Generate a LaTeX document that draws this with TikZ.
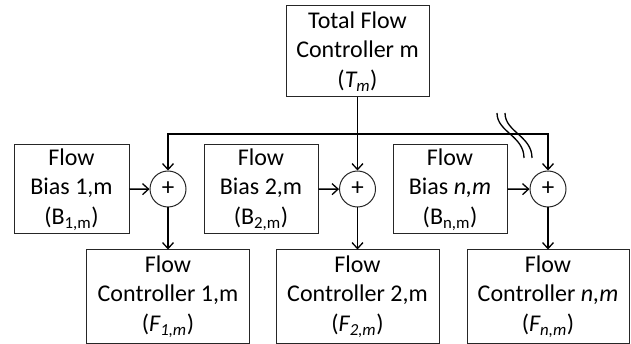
\documentclass[tikz,border=0pt]{standalone}
\usepackage{fontspec}
\setmainfont{Carlito}
\usetikzlibrary{arrows.meta}
\begin{document}
\begin{tikzpicture}[x=1pt, y=-1pt,
    font=\fontsize{24}{29.5}\selectfont,
    box/.style={draw=black!85, line width=1pt, rectangle, align=center, inner sep=0pt},
    sumnode/.style={draw=black!85, line width=1pt, circle, minimum size=36pt, inner sep=0pt, font=\fontsize{25}{25}\selectfont},
    arr/.style={line width=1.5pt, -{Straight Barb[length=6pt, width=11pt, line width=1.3pt]}}]
    \useasboundingbox (0,0) rectangle (631,344);
    % top controller
    \node[box, minimum width=143pt, minimum height=91pt] (total) at (357.5,51.5) {Total Flow\\Controller m\\(\textit{T\textsubscript{m}})};
    % bias boxes
    \node[box, minimum width=115pt, minimum height=89pt] (bias1) at (71.5,189.5) {Flow\\Bias 1,m\\(B\textsubscript{1,m})};
    \node[box, minimum width=114pt, minimum height=89pt] (bias2) at (261,189.5) {Flow\\Bias 2,m\\(B\textsubscript{2,m})};
    \node[box, minimum width=114pt, minimum height=89pt] (biasn) at (450,189.5) {Flow\\Bias \textit{n,m}\\(B\textsubscript{n,m})};
    % summing junctions
    \node[sumnode] (sum1) at (168,189) {+};
    \node[sumnode] (sum2) at (357.5,189) {+};
    \node[sumnode] (sumn) at (548,189) {+};
    % flow controllers
    \node[box, minimum width=163pt, minimum height=93pt] (ctrl1) at (168,296.5) {Flow\\Controller 1,m\\(\textit{F\textsubscript{1,m}})};
    \node[box, minimum width=163pt, minimum height=93pt] (ctrl2) at (357.5,296.5) {Flow\\Controller 2,m\\(\textit{F\textsubscript{2,m}})};
    \node[box, minimum width=162pt, minimum height=93pt] (ctrln) at (548,296.5) {Flow\\Controller \textit{n,m}\\(\textit{F\textsubscript{n,m}})};
    % bus
    \coordinate (bus) at (357.5,134);
    \draw[arr] (total) -- (sum2);
    \draw[arr] (bus) -| (sum1);
    \draw[arr] (bus) -| (sumn);
    \draw[arr] (bias1) -- (sum1);
    \draw[arr] (bias2) -- (sum2);
    \draw[arr] (biasn) -- (sumn);
    \draw[arr] (sum1) -- (ctrl1);
    \draw[arr] (sum2) -- (ctrl2);
    \draw[arr] (sumn) -- (ctrln);
    % break mark
    \draw[line width=1.3pt] (497,113) .. controls (497,132) and (524,136) .. (524,158);
    \draw[line width=1.3pt] (505,113) .. controls (505,132) and (532,136) .. (532,158);
\end{tikzpicture}
\end{document}
